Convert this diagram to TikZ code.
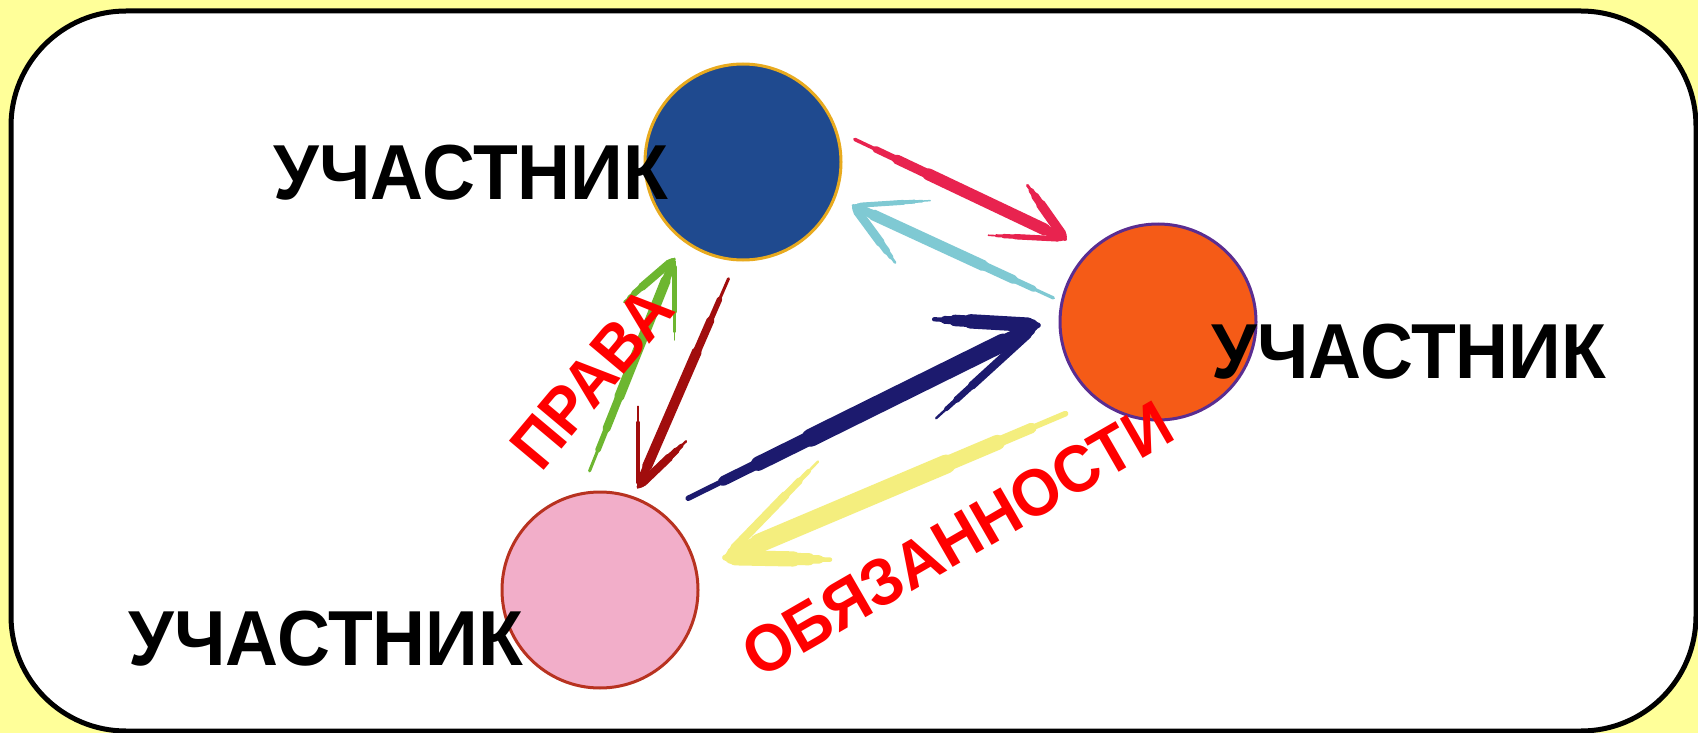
\documentclass[tikz,border=0pt]{standalone}
\usepackage{fontspec}
\usetikzlibrary{calc}
\newfontfamily\uchfont{Liberation Sans}[FakeStretch=0.94]
\definecolor{bgyellow}{HTML}{FFFF99}
\definecolor{pblue}{HTML}{1F4A8F}
\definecolor{pgold}{HTML}{E8AA1E}
\definecolor{porange}{HTML}{F55B17}
\definecolor{ppurple}{HTML}{5A2D91}
\definecolor{ppink}{HTML}{F2AEC9}
\definecolor{pbrown}{HTML}{B83220}
\definecolor{acrimson}{HTML}{E8234F}
\definecolor{acyan}{HTML}{7FC9D3}
\definecolor{anavy}{HTML}{1C1A6E}
\definecolor{ayellow}{HTML}{F4EE7E}
\definecolor{agreen}{HTML}{6DB630}
\definecolor{adarkred}{HTML}{A10D0D}
\tikzset{
  participant/.style={circle,minimum size=196pt,inner sep=0pt,line width=3pt},
  member/.style={anchor=base,inner sep=0pt,font={\uchfont\bfseries\fontsize{78}{80}\selectfont}},
  relation/.style={inner sep=0pt,text=red,font={\uchfont\bfseries\fontsize{66}{68}\selectfont}}
}
\newcommand{\stroke}[4]{%
  \foreach \fa/\fb/\fw in {0/1/0.3,0.1/0.97/0.55,0.2/0.94/0.8,0.35/0.9/1}
    \draw[#3,line width=\fw*#4,line cap=round] ($(#1)!\fa!(#2)$) -- ($(#1)!\fb!(#2)$);}
\newcommand{\brusharrow}[8]{%
  \coordinate (tl) at ($(#1)!#3!(#2)$);
  \coordinate (hd) at ($(#2)!#4!(#1)$);
  \path (hd) ++(#7) coordinate (b1) (hd) ++(#8) coordinate (b2);
  \stroke{tl}{hd}{#5}{#6}
  \stroke{b1}{hd}{#5}{0.8*#6}
  \stroke{b2}{hd}{#5}{0.45*#6}}
\begin{document}
\begin{tikzpicture}[x=1pt,y=-1pt]
\useasboundingbox (0,0) rectangle (1698,733);
\fill[bgyellow] (0,0) rectangle (1698,733);
\draw[line width=5pt,rounded corners=115pt,fill=white] (11,11) rectangle (1696,731);
\node[participant,fill=pblue,draw=pgold] (blue) at (743,162) {};
\node[participant,fill=porange,draw=ppurple] (orange) at (1158,322) {};
\node[participant,fill=ppink,draw=pbrown] (pink) at (600,590) {};
\brusharrow{blue.18}{orange.134}{19pt}{26pt}{acrimson}{12pt}{-38,-54}{-77,-4}
\brusharrow{orange.168}{blue.-21}{8pt}{19pt}{acyan}{11pt}{42,57}{77,-5}
\brusharrow{pink.52}{orange.176}{30pt}{23pt}{anavy}{18pt}{-104,-6}{-102,93}
\brusharrow{orange.-128}{pink.12}{34pt}{30pt}{ayellow}{19pt}{105,2}{93,-96}
\brusharrow{pink.101}{blue.-128}{23pt}{20pt}{agreen}{10pt}{-50,43}{0,81}
\brusharrow{blue.-94}{pink.70}{19pt}{10pt}{adarkred}{10pt}{48,-46}{0,-81}
\node[member] (mleft) at (471,200) {УЧАСТНИК};
\node[member] (mright) at (1409,378) {УЧАСТНИК};
\node[member] (mbottom) at (326,665) {УЧАСТНИК};
\node[relation,rotate=50] (rights) at (592,378) {ПРАВА};
\node[relation,rotate=30] (duties) at (957,539) {ОБЯЗАННОСТИ};
\end{tikzpicture}
\end{document}
